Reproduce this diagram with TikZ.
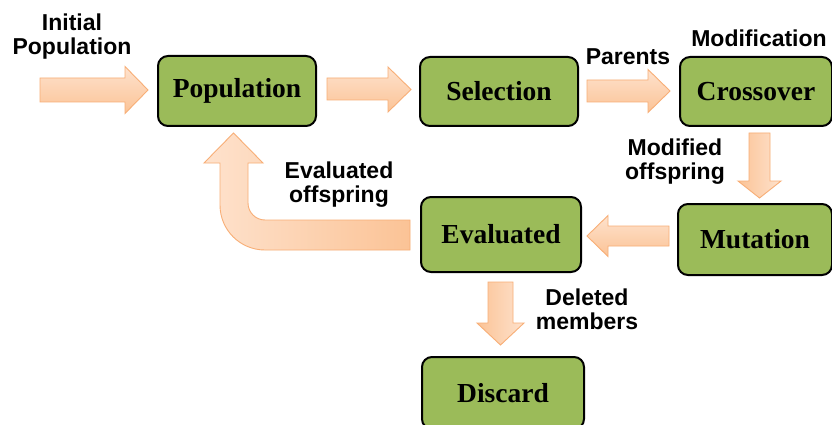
\documentclass[tikz,border=0pt]{standalone}
\usepackage{fontspec}
\setmainfont{Liberation Serif}
\newfontfamily\labfont{Liberation Sans}
\definecolor{boxgreen}{HTML}{9BBB59}
\definecolor{arrline}{HTML}{F8AE76}
\definecolor{arrlight}{HTML}{FEE2CD}
\definecolor{arrdark}{HTML}{FBC396}
\tikzset{
  stagebox/.style={draw=black, line width=2pt, fill=boxgreen, rounded corners=10pt,
    font=\fontsize{27.5}{30}\selectfont\bfseries, inner sep=0pt},
  lab/.style={font=\labfont\fontsize{23}{24}\selectfont\bfseries, align=center, inner sep=0pt},
  harr/.style={draw=arrline, line width=0.9pt, top color=arrlight, bottom color=arrdark, line join=miter},
  varr/.style={draw=arrline, line width=0.9pt, left color=arrdark, right color=arrlight, line join=miter},
  uarr/.style={draw=arrline, line width=0.9pt, left color=arrlight, right color=arrdark, line join=miter}
}
\begin{document}
\begin{tikzpicture}[x=1pt,y=-1pt]
\clip (0,0) rectangle (832,425);
\fill[white] (0,0) rectangle (832,425);

% boxes
\node[stagebox, minimum width=158pt, minimum height=70pt] (pop) at (237,91) {Population};
\node[stagebox, minimum width=158pt, minimum height=69pt] (sel) at (499,91.5) {Selection};
\node[stagebox, minimum width=152pt, minimum height=69pt] (cro) at (756,91.5) {Crossover};
\node[stagebox, minimum width=154pt, minimum height=71pt] (mut) at (755,239.5) {Mutation};
\node[stagebox, minimum width=160pt, minimum height=75pt] (eva) at (501,234.5) {Evaluated};
\node[stagebox, minimum width=162pt, minimum height=72pt] (dis) at (503,393) {Discard};

% block arrows
% initial -> population
\path[harr] (40,78) -- (125,78) -- (125,66.5) -- (148,90) -- (125,113.5) -- (125,102) -- (40,102) -- cycle;
% population -> selection
\path[harr] (327,78) -- (388,78) -- (388,67) -- (411,89.5) -- (388,112) -- (388,100) -- (327,100) -- cycle;
% selection -> crossover
\path[harr] (587,80) -- (648,80) -- (648,69.5) -- (670,91) -- (648,112.5) -- (648,102) -- (587,102) -- cycle;
% crossover -> mutation
\path[varr] (749,133) -- (770,133) -- (770,181) -- (781,181) -- (759.5,198) -- (738,181) -- (749,181) -- cycle;
% mutation -> evaluated
\path[harr] (669,226) -- (608,226) -- (608,215.5) -- (587,236) -- (608,256.5) -- (608,246) -- (669,246) -- cycle;
% evaluated -> discard
\path[varr] (488,282) -- (513,282) -- (513,323) -- (524,323) -- (500.5,345) -- (477,323) -- (488,323) -- cycle;
% evaluated -> population (U-turn)
\path[uarr] (410,250) -- (265,250) .. controls (240.1,250) and (220,229.9) .. (220,205)
  -- (220,163) -- (204,163) -- (233.5,133) -- (263,163) -- (248,163) -- (248,203)
  .. controls (248,212.4) and (255.6,220) .. (265,220) -- (410,220) -- cycle;

% labels
\node[lab] (linit) at (72,37) {Initial\\Population};
\node[lab] (lpar) at (628,57) {Parents};
\node[lab] (lmod) at (759,38.5) {Modification};
\node[lab] (lmoff) at (675,162) {Modified\\offspring};
\node[lab] (levoff) at (339,185) {Evaluated\\offspring};
\node[lab] (ldel) at (587,309) {Deleted\\members};
\end{tikzpicture}
\end{document}
